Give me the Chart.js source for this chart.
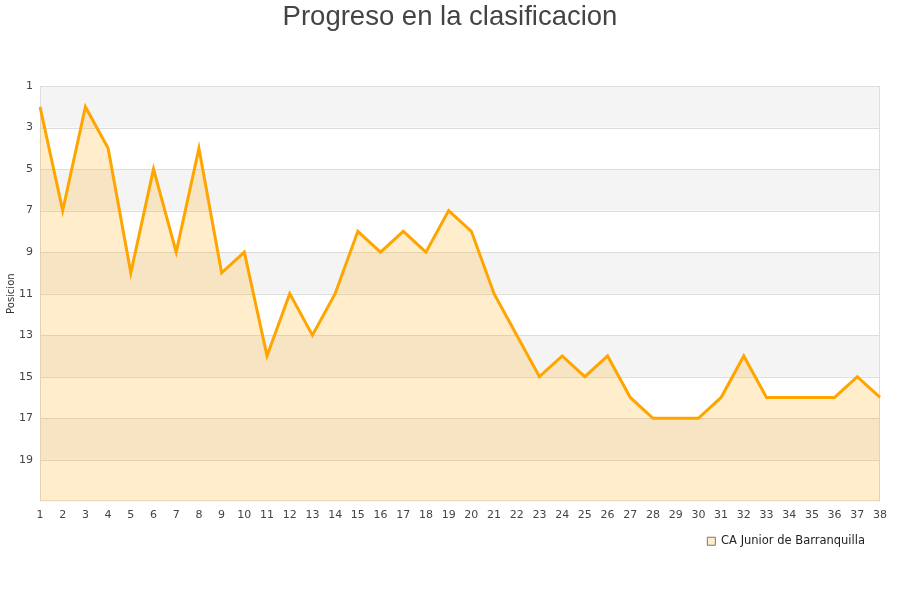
<!DOCTYPE html>
<html>
<head>
<meta charset="utf-8">
<script src="https://cdn.jsdelivr.net/npm/chart.js@4"></script>
<style>
  html, body { margin: 0; padding: 0; background: #fff; }
  #wrap { width: 900px; height: 600px; }
</style>
</head>
<body>
<div id="wrap"><canvas id="chart"></canvas></div>
<script>
// jornadas 1..38
const jornadas = ["1","2","3","4","5","6","7","8","9","10","11","12","13","14","15","16","17","18","19",
  "20","21","22","23","24","25","26","27","28","29","30","31","32","33","34","35","36","37","38"];
// posicion en la tabla por jornada
const posiciones = [2, 7, 2, 4, 10, 5, 9, 4, 10, 9, 14, 11, 13, 11, 8, 9, 8, 9, 7, 8,
  11, 13, 15, 14, 15, 14, 16, 17, 17, 17, 16, 14, 16, 16, 16, 16, 15, 16];
const yTicks = [1, 3, 5, 7, 9, 11, 13, 15, 17, 19];
const equipo = "CA Junior de Barranquilla";

// bandas grises alternas detras de la serie
const bandas = {
  id: "bandas",
  afterLayout(chart) {
    // titulo centrado en todo el lienzo, leyenda un poco hacia dentro
    if (chart.titleBlock) { chart.titleBlock.left = 0; chart.titleBlock.right = chart.width; }
    if (chart.legend) { chart.legend.right = chart.chartArea.right - 8; }
  },
  beforeDatasetsDraw(chart) {
    const { ctx, chartArea: a, scales: { y } } = chart;
    ctx.save();
    ctx.fillStyle = "#f4f4f4";
    for (let v = 1; v < 21; v += 4) {
      const p1 = y.getPixelForValue(v);
      const p2 = y.getPixelForValue(v + 2);
      ctx.fillRect(a.left, p1, a.right - a.left, p2 - p1);
    }
    ctx.strokeStyle = "#dddddd";
    ctx.lineWidth = 1;
    yTicks.forEach(function (t) {
      const p = Math.round(y.getPixelForValue(t)) + 0.5;
      ctx.beginPath();
      ctx.moveTo(a.left, p);
      ctx.lineTo(a.right, p);
      ctx.stroke();
    });
    ctx.strokeRect(a.left + 0.5, a.top + 0.5, a.right - a.left - 1, a.bottom - a.top - 1);
    ctx.restore();
  }
};

new Chart(document.getElementById("chart"), {
  type: "line",
  data: {
    labels: jornadas,
    datasets: [{
      label: equipo,
      data: posiciones,
      borderColor: "#ffa500",
      backgroundColor: "rgba(255, 165, 0, 0.2)",
      borderWidth: 3,
      pointRadius: 0,
      tension: 0,
      fill: { value: 21 }
    }]
  },
  options: {
    responsive: true,
    maintainAspectRatio: false,
    animation: false,
    layout: { padding: { top: 0, right: 20, bottom: 43, left: 0 } },
    plugins: {
      title: {
        display: true,
        text: "Progreso en la clasificacion",
        color: "#444",
        font: { family: "'Liberation Sans', Arial, sans-serif", size: 27.5, weight: "normal" },
        padding: { top: 1, bottom: 52 }
      },
      legend: {
        position: "bottom",
        align: "end",
        labels: {
          color: "#222",
          font: { family: "'DejaVu Sans', sans-serif", size: 11.5 },
          boxWidth: 8,
          boxHeight: 8,
          padding: 7,
          generateLabels: function (chart) {
            return chart.data.datasets.map(function (ds, i) {
              return {
                text: ds.label,
                fillStyle: "#ffeecc",
                strokeStyle: "#777",
                lineWidth: 1,
                fontColor: "#222",
                datasetIndex: i
              };
            });
          }
        }
      },
      tooltip: { enabled: false }
    },
    scales: {
      x: {
        offset: false,
        grid: { display: false, drawTicks: false },
        border: { display: false },
        ticks: {
          color: "#444",
          font: { family: "'DejaVu Sans', sans-serif", size: 11 },
          padding: 7,
          maxRotation: 0,
          autoSkip: false
        }
      },
      y: {
        reverse: true,
        min: 1,
        max: 21,
        afterBuildTicks: function (scale) {
          scale.ticks = yTicks.map(function (v) { return { value: v }; });
        },
        afterFit: function (scale) { scale.width = 40; },
        grid: { display: false, drawTicks: false },
        border: { display: false },
        ticks: {
          color: "#444",
          font: { family: "'DejaVu Sans', sans-serif", size: 11 },
          padding: 7
        },
        title: {
          display: true,
          text: "Posicion",
          color: "#333",
          font: { family: "'DejaVu Sans', sans-serif", size: 10 },
          padding: { top: 5, bottom: 0 }
        }
      }
    }
  },
  plugins: [bandas]
});
</script>
</body>
</html>
